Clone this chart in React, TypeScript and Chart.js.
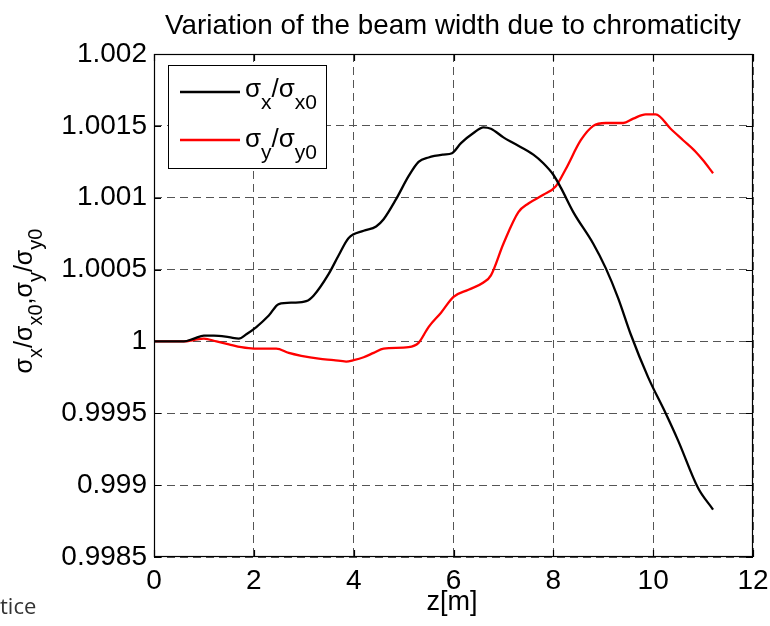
import React, { useEffect, useRef } from 'react';
import { Chart, registerables } from 'chart.js';

Chart.register(...registerables);

const chartTitle = 'Variation of the beam width due to chromaticity';
const xAxisLabel = 'z[m]';
const cornerText = 'tice';

const xTickValues = [0, 2, 4, 6, 8, 10, 12];
const yTickValues = [0.9985, 0.999, 0.9995, 1, 1.0005, 1.001, 1.0015, 1.002];
const yTickLabels = ['0.9985', '0.999', '0.9995', '1', '1.0005', '1.001', '1.0015', '1.002'];

const zX = [0, 0.6, 0.8, 1.0, 1.2, 1.5, 1.7, 1.85, 2.05, 2.3, 2.5, 2.8, 3.05, 3.2, 3.5, 3.7, 3.9, 4.2, 4.45, 4.6, 4.85, 5.1, 5.3, 5.5, 5.8, 5.97, 6.15, 6.4, 6.6, 6.75, 7.0, 7.2, 7.6, 7.8, 8.0, 8.15, 8.4, 8.8, 9.05, 9.3, 9.55, 9.9, 10.25, 10.5, 10.9, 11.2];
const sigmaXRatio = [1, 1, 1.00002, 1.00004, 1.00004, 1.00003, 1.00002, 1.00005, 1.0001, 1.00018, 1.00026, 1.00027, 1.00028, 1.00032, 1.00047, 1.0006, 1.00072, 1.00077, 1.0008, 1.00085, 1.00099, 1.00115, 1.00125, 1.00128, 1.0013, 1.00131, 1.00138, 1.00145, 1.00149, 1.00148, 1.00142, 1.00138, 1.0013, 1.00124, 1.00116, 1.00107, 1.0009, 1.00068, 1.00051, 1.0003, 1.00005, 0.99975, 0.9995, 0.99931, 0.99898, 0.99883];

const zY = [0, 0.6, 0.8, 1.0, 1.25, 1.5, 1.75, 2.0, 2.45, 2.7, 2.95, 3.3, 3.6, 3.85, 4.0, 4.2, 4.4, 4.6, 5.1, 5.3, 5.5, 5.75, 6.0, 6.3, 6.6, 6.75, 7.0, 7.3, 7.5, 7.8, 8.05, 8.25, 8.55, 8.8, 9.05, 9.4, 9.6, 9.85, 10.05, 10.35, 10.6, 10.85, 11.0, 11.2];
const sigmaYRatio = [1, 1, 1.00001, 1.00002, 1.0, 0.99998, 0.99996, 0.99995, 0.99995, 0.99992, 0.9999, 0.99988, 0.99987, 0.99986, 0.99987, 0.99989, 0.99992, 0.99995, 0.99996, 0.99999, 1.0001, 1.0002, 1.00031, 1.00036, 1.00041, 1.00046, 1.00068, 1.0009, 1.00096, 1.00102, 1.00108, 1.0012, 1.0014, 1.0015, 1.00152, 1.00152, 1.00155, 1.00158, 1.00158, 1.00148, 1.0014, 1.00132, 1.00126, 1.00117];

type Seg = { t: string; sub?: boolean };
const legendX: Seg[] = [{ t: 'σ' }, { t: 'x', sub: true }, { t: '/σ' }, { t: 'x0', sub: true }];
const legendY: Seg[] = [{ t: 'σ' }, { t: 'y', sub: true }, { t: '/σ' }, { t: 'y0', sub: true }];
const yAxisLabel: Seg[] = [
  { t: 'σ' }, { t: 'x', sub: true }, { t: '/σ' }, { t: 'x0', sub: true }, { t: ',σ' },
  { t: 'y', sub: true }, { t: '/σ' }, { t: 'y0', sub: true },
];

const FONT = '"Liberation Sans", Arial, sans-serif';

function richWidth(ctx: CanvasRenderingContext2D, segs: Seg[], main: number, sub: number) {
  let w = 0;
  for (const s of segs) {
    ctx.font = `${s.sub ? sub : main}px ${FONT}`;
    w += ctx.measureText(s.t).width;
  }
  return w;
}

function drawRich(ctx: CanvasRenderingContext2D, segs: Seg[], x: number, y: number, main: number, sub: number, drop: number) {
  let cx = x;
  ctx.textAlign = 'left';
  ctx.textBaseline = 'alphabetic';
  for (const s of segs) {
    ctx.font = `${s.sub ? sub : main}px ${FONT}`;
    ctx.fillText(s.t, cx, s.sub ? y + drop : y);
    cx += ctx.measureText(s.t).width;
  }
}

const decorPlugin = {
  id: 'decor',
  afterDraw(chart: any) {
    const { ctx, chartArea } = chart;
    const { left, right, top, bottom } = chartArea;
    const xs = chart.scales.x;
    const ys = chart.scales.y;
    ctx.save();
    // box
    ctx.strokeStyle = '#000';
    ctx.lineWidth = 1.2;
    ctx.setLineDash([]);
    ctx.strokeRect(left + 0.5, top + 0.5, right - left - 1, bottom - top - 1);
    // inward ticks
    ctx.beginPath();
    for (const v of xTickValues) {
      const p = Math.round(xs.getPixelForValue(v)) + 0.5;
      ctx.moveTo(p, bottom); ctx.lineTo(p, bottom - 7);
      ctx.moveTo(p, top); ctx.lineTo(p, top + 7);
    }
    for (const v of yTickValues) {
      const p = Math.round(ys.getPixelForValue(v)) + 0.5;
      ctx.moveTo(left, p); ctx.lineTo(left + 7, p);
      ctx.moveTo(right, p); ctx.lineTo(right - 7, p);
    }
    ctx.stroke();

    // legend
    ctx.fillStyle = '#fff';
    ctx.fillRect(168.5, 65.5, 158, 103);
    ctx.strokeStyle = '#000';
    ctx.lineWidth = 1;
    ctx.strokeRect(168.5, 65.5, 158, 103);
    ctx.lineWidth = 2.5;
    ctx.beginPath();
    ctx.strokeStyle = '#000';
    ctx.moveTo(180, 92); ctx.lineTo(240, 92);
    ctx.stroke();
    ctx.beginPath();
    ctx.strokeStyle = '#ff0000';
    ctx.moveTo(180, 140); ctx.lineTo(240, 140);
    ctx.stroke();
    ctx.fillStyle = '#000';
    drawRich(ctx, legendX, 245, 97, 26, 21, 12);
    drawRich(ctx, legendY, 245, 147, 26, 21, 12);

    // title
    ctx.font = `27.8px ${FONT}`;
    ctx.textAlign = 'center';
    ctx.textBaseline = 'alphabetic';
    ctx.fillText(chartTitle, 453, 33.5);

    // x label
    ctx.font = `27px ${FONT}`;
    ctx.fillText(xAxisLabel, 452, 610);

    // y label (rotated)
    ctx.save();
    ctx.translate(32, 301);
    ctx.rotate(-Math.PI / 2);
    const w = richWidth(ctx, yAxisLabel, 25, 20);
    drawRich(ctx, yAxisLabel, -w / 2, 0, 25, 20, 10);
    ctx.restore();

    // corner text
    ctx.font = '22px "Open Sans", sans-serif';
    ctx.fillStyle = '#333';
    ctx.textAlign = 'left';
    ctx.fillText(cornerText, 0, 614);
    ctx.restore();
  },
};

export default function App() {
  const ref = useRef<HTMLCanvasElement | null>(null);
  useEffect(() => {
    if (!ref.current) return;
    const chart = new Chart(ref.current, {
      type: 'line',
      data: {
        datasets: [
          {
            label: 'sx',
            data: zX.map((x, i) => ({ x, y: sigmaXRatio[i] })),
            borderColor: '#000',
            borderWidth: 2.3,
            pointRadius: 0,
            cubicInterpolationMode: 'monotone',
            fill: false,
          },
          {
            label: 'sy',
            data: zY.map((x, i) => ({ x, y: sigmaYRatio[i] })),
            borderColor: '#ff0000',
            borderWidth: 2.3,
            pointRadius: 0,
            cubicInterpolationMode: 'monotone',
            fill: false,
          },
        ],
      },
      options: {
        responsive: false,
        animation: false,
        devicePixelRatio: 1,
        layout: { padding: { left: 0, right: 17, top: 54, bottom: 0 } },
        plugins: { legend: { display: false }, title: { display: false }, tooltip: { enabled: false } },
        scales: {
          x: {
            type: 'linear',
            min: 0,
            max: 12,
            afterBuildTicks: (axis: any) => { axis.ticks = xTickValues.map((v) => ({ value: v })); },
            afterFit: (scale: any) => { scale.height = 69; scale.paddingLeft = 0; scale.paddingRight = 0; },
            ticks: {
              color: '#000',
              font: { family: FONT, size: 28 },
              padding: 7,
              maxRotation: 0,
              autoSkip: false,
              callback: (v: any) => String(v),
            },
            grid: { color: '#555', lineWidth: 1, drawTicks: false },
            border: { display: false, dash: [8, 5] },
          },
          y: {
            type: 'linear',
            min: 0.9985,
            max: 1.002,
            afterBuildTicks: (axis: any) => { axis.ticks = yTickValues.map((v) => ({ value: v })); },
            afterFit: (scale: any) => { scale.width = 154; scale.paddingTop = 0; scale.paddingBottom = 0; },
            ticks: {
              color: '#000',
              font: { family: FONT, size: 28 },
              padding: 7,
              autoSkip: false,
              callback: (_v: any, i: number) => yTickLabels[i],
            },
            grid: { color: '#555', lineWidth: 1, drawTicks: false },
            border: { display: false, dash: [8, 5] },
          },
        },
      },
      plugins: [decorPlugin],
    } as any);
    return () => chart.destroy();
  }, []);
  return (
    <div style={{ position: 'fixed', left: 0, top: 0, width: 770, height: 626, background: '#fff' }}>
      <canvas ref={ref} width={770} height={626} style={{ display: 'block', width: 770, height: 626 }} />
    </div>
  );
}
